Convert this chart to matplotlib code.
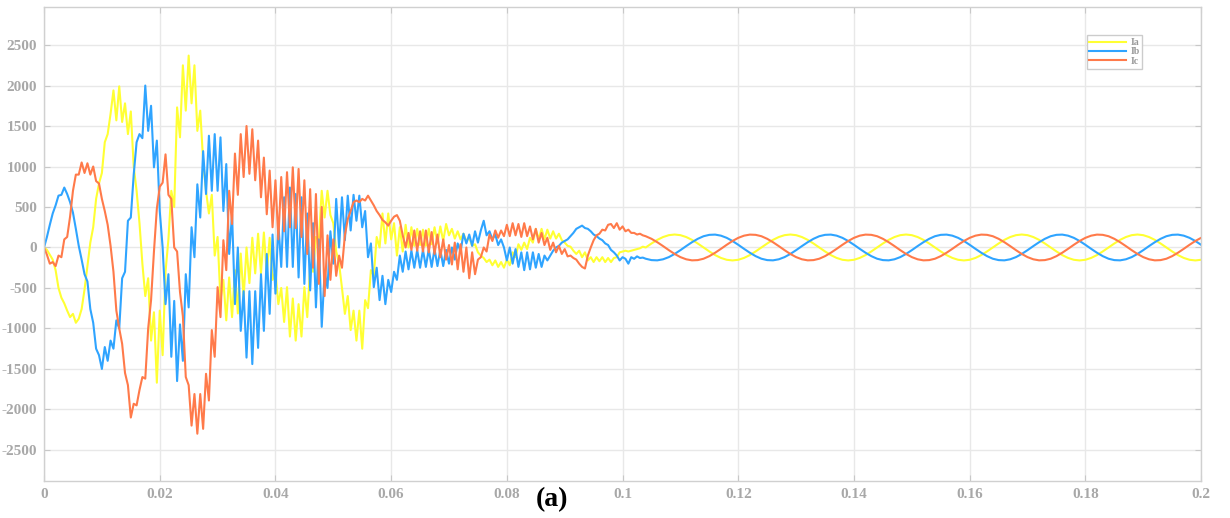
import numpy as np
import matplotlib
matplotlib.use('Agg')
import matplotlib.pyplot as plt
from matplotlib.ticker import FormatStrFormatter

plt.rcParams['axes.unicode_minus'] = False

# Arus tiga fasa, dibaca dari gambar
# bagian transien: sampel tiap 0.5 ms dari 0 s sampai 0.1035 s
dt_trans = 0.0005
ia_trans = [
    0, -30, -90, -150, -280, -500, -620, -690, -780, -860, -820, -930, -880, -760, -520, -230, 60, 250, 600, 790,
    920, 1300, 1400, 1650, 1940, 1570, 1990, 1550, 1780, 1400, 1680, 1000, 700, 300, -200, -600, -380, -1150, -800, -1670,
    -780, -1330, -300, 100, 700, 500, 1730, 1360, 2250, 1690, 2370, 1780, 2250, 1440, 1690, 1070, 700, 420, 650, -100,
    130, -650, -400, -900, -370, -860, -280, -815, -75, -620, 0, -440, 120, -320, 170, -320, 185, -320, 120, -400,
    -300, -700, -500, -920, -490, -1100, -630, -1150, -700, -1100, -490, -860, -240, -300, 130, 100, 700, 370, 700, 400,
    300, -50, -200, -500, -820, -600, -1020, -780, -1150, -780, -1250, -650, -750, -280, -350, 130, 0, 420, 50, 420,
    100, 300, -100, 250, -50, 280, 0, 250, 20, 230, 30, 220, 20, 230, 40, 250, 50, 260, 80, 290,
    150, 230, 110, 200, 100, 170, 80, 120, 20, 40, -60, -100, -130, -180, -150, -220, -160, -240, -180, -250,
    -150, -220, -60, -120, 40, -30, 60, -20, 120, 60, 230, 100, 230, 100, 220, 110, 200, 110, 170, 90,
    60, 20, 10, -40, -80, -40, -120, -60, -160, -120, -180, -120, -170, -120, -180, -130, -180, -130, -120, -60,
    -50, -40, -50, -40, -30, -20, -10, 10,
]
ib_trans = [
    0, 130, 280, 420, 520, 640, 650, 740, 660, 560, 430, 230, 20, -150, -330, -420, -760, -930, -1250, -1330,
    -1500, -1230, -1400, -1150, -1250, -900, -1000, -380, -300, 330, 370, 900, 1300, 1400, 1350, 2000, 1440, 1750, 990, 1320,
    450, 0, -700, -330, -1350, -660, -1650, -950, -1400, -330, -740, 250, -120, 780, 370, 1190, 660, 1380, 700, 1400,
    700, 1360, 450, 1030, -80, 410, -700, 0, -1030, -540, -1360, -540, -1440, -540, -1240, -330, -1030, -80, -820, 160,
    -570, 300, -240, 620, -240, 740, -240, 660, -370, 620, -450, 420, -530, 300, -740, 100, -980, -300, -500, 200,
    -200, 600, 0, 620, 90, 640, 210, 650, 330, 640, 250, 450, -120, 50, -490, -250, -650, -350, -700, -400,
    -550, -300, -400, -100, -300, -50, -270, -40, -250, -30, -250, -30, -240, -20, -240, -20, -230, -30, -230, -30,
    -200, 0, -150, 50, -50, 170, 50, 160, 20, 200, 60, 210, 330, 150, 200, 100, 160, 30, 100, 0,
    -160, 0, -200, -20, -240, -60, -280, -60, -270, -60, -250, -80, -240, -100, -160, -100, -40, 0, 20, 60,
    80, 100, 140, 180, 230, 250, 270, 240, 230, 200, 160, 140, 110, 90, 50, 30, -30, -60, -100, -160,
    -120, -140, -200, -120, -140, -110, -130, -125,
]
ic_trans = [
    0, -90, -200, -180, -230, -100, -120, 100, 130, 380, 700, 900, 900, 1050, 920, 1040, 900, 1000, 820, 790,
    600, 450, 280, 20, -300, -780, -1000, -1190, -1550, -1700, -2100, -1930, -1950, -1760, -1600, -1620, -1000, -650, -50, 480,
    750, 800, 1150, 650, 600, 0, -50, -550, -850, -1600, -1700, -2200, -1810, -2300, -1810, -2240, -1560, -1890, -1020, -1350,
    -490, -860, 90, -280, 700, 290, 1160, 650, 1400, 870, 1500, 910, 1460, 830, 1320, 620, 1110, 410, 950, 250,
    830, 100, 870, 200, 930, 250, 990, 240, 970, 130, 830, -80, 720, -250, 660, -450, 500, -600, 150, -400,
    100, -350, -100, -250, 150, 350, 450, 560, 580, 560, 600, 580, 640, 580, 520, 450, 400, 340, 310, 270,
    330, 380, 400, 330, 150, 0, 180, -30, 210, -40, 200, -50, 210, -60, 190, -80, 160, -120, 100, -150,
    30, -210, 60, -270, 40, -300, 0, -380, -60, -330, -150, -120, 0, -50, 160, 80, 210, 120, 210, 140,
    280, 140, 300, 150, 290, 130, 300, 140, 260, 100, 230, 60, 180, 30, 120, -30, 60, -60, 20, -80,
    -20, -110, -100, -130, -150, -200, -240, -260, -100, 0, 90, 150, 170, 220, 210, 280, 290, 240, 300, 220,
    260, 200, 220, 180, 180, 160, 170, 150,
]

# bagian tunak: sampel tiap 1 ms dari 0.104 s sampai 0.2 s
t_steady_start = 0.104
dt_steady = 0.001
ia_steady = [
    0, 49, 94, 129, 152, 160, 152, 129, 94, 49, 0, -49, -94, -129, -152, -160, -152, -129, -94, -49,
    0, 49, 94, 129, 152, 160, 152, 129, 94, 49, 0, -49, -94, -129, -152, -160, -152, -129, -94, -49,
    0, 49, 94, 129, 152, 160, 152, 129, 94, 49, 0, -49, -94, -129, -152, -160, -152, -129, -94, -49,
    0, 49, 94, 129, 152, 160, 152, 129, 94, 49, 0, -49, -94, -129, -152, -160, -152, -129, -94, -49,
    0, 49, 94, 129, 152, 160, 152, 129, 94, 49, 0, -49, -94, -129, -152, -160, -152,
]
ib_steady = [
    -139, -156, -159, -146, -119, -80, -33, 17, 65, 107, 139, 156, 159, 146, 119, 80, 33, -17, -65, -107,
    -139, -156, -159, -146, -119, -80, -33, 17, 65, 107, 139, 156, 159, 146, 119, 80, 33, -17, -65, -107,
    -139, -156, -159, -146, -119, -80, -33, 17, 65, 107, 139, 156, 159, 146, 119, 80, 33, -17, -65, -107,
    -139, -156, -159, -146, -119, -80, -33, 17, 65, 107, 139, 156, 159, 146, 119, 80, 33, -17, -65, -107,
    -139, -156, -159, -146, -119, -80, -33, 17, 65, 107, 139, 156, 159, 146, 119, 80, 33,
]
ic_steady = [
    139, 107, 65, 17, -33, -80, -119, -146, -159, -156, -139, -107, -65, -17, 33, 80, 119, 146, 159, 156,
    139, 107, 65, 17, -33, -80, -119, -146, -159, -156, -139, -107, -65, -17, 33, 80, 119, 146, 159, 156,
    139, 107, 65, 17, -33, -80, -119, -146, -159, -156, -139, -107, -65, -17, 33, 80, 119, 146, 159, 156,
    139, 107, 65, 17, -33, -80, -119, -146, -159, -156, -139, -107, -65, -17, 33, 80, 119, 146, 159, 156,
    139, 107, 65, 17, -33, -80, -119, -146, -159, -156, -139, -107, -65, -17, 33, 80, 119,
]

labels = ['Ia', 'Ib', 'Ic']
colors = ['#ffff33', '#2fa4ff', '#ff7a4a']
y_ticks = np.arange(-2500, 2501, 500)
x_ticks = np.arange(0, 0.2001, 0.02)

# sumbu waktu
t_trans = np.arange(len(ia_trans)) * dt_trans
t_steady = t_steady_start + np.arange(len(ia_steady)) * dt_steady
t_all = np.concatenate([t_trans, t_steady])
series = [
    np.concatenate([ia_trans, ia_steady]),
    np.concatenate([ib_trans, ib_steady]),
    np.concatenate([ic_trans, ic_steady]),
]

fig = plt.figure(figsize=(12.3, 5.18), dpi=100)
ax = fig.add_axes([0.0358, 0.0705, 0.9407, 0.916])

for y, lab, col in zip(series, labels, colors):
    ax.plot(t_all, y, color=col, linewidth=1.5, label=lab)

ax.set_xlim(0, 0.2)
ax.set_ylim(-2890, 2970)
ax.set_xticks(x_ticks)
ax.set_yticks(y_ticks)
ax.xaxis.set_major_formatter(FormatStrFormatter('%g'))
ax.grid(True, color='#e8e8e8', linewidth=1.0)
ax.set_axisbelow(True)

tick_color = '#a8a8a8'
ax.tick_params(direction='in', length=4, color='#c8c8c8', labelcolor=tick_color,
               labelsize=11, pad=5, top=True, right=True)
for lbl in ax.get_xticklabels() + ax.get_yticklabels():
    lbl.set_fontfamily('Liberation Serif')
    lbl.set_fontweight('bold')
for sp in ax.spines.values():
    sp.set_color('#d0d0d0')
    sp.set_linewidth(1.0)

leg = ax.legend(loc='upper left', bbox_to_anchor=(0.901, 0.941),
                prop={'family': 'Liberation Serif', 'weight': 'bold', 'size': 7},
                frameon=True, fancybox=False, edgecolor='#cccccc', framealpha=1,
                handlelength=3.8, handletextpad=0.4, labelspacing=0.05,
                borderpad=0.3, borderaxespad=0)
for txt in leg.get_texts():
    txt.set_color('#999999')

fig.text(552 / 1230, 1 - 500 / 518, '(a)', ha='center', va='center',
         fontsize=20, fontweight='bold', family='Liberation Serif', color='black')

plt.savefig('out.png', dpi=100)
